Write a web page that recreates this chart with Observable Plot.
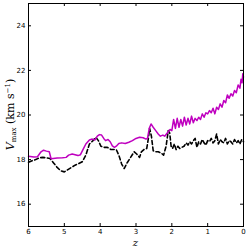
<!DOCTYPE html>
<html><head><meta charset="utf-8">
<script src="https://cdn.jsdelivr.net/npm/d3@7"></script>
<script src="https://cdn.jsdelivr.net/npm/@observablehq/plot@0.6"></script>
<style>body{margin:0;background:#fff}</style>
</head><body><div id="chart"></div>
<script>
const magZ = [6.0,5.85,5.75,5.65,5.58,5.5,5.42,5.37,5.2,5.05,4.95,4.88,4.78,4.7,4.62,4.55,4.48,4.4,4.3,4.22,4.15,4.08,4.02,3.96,3.9,3.85,3.78,3.72,3.66,3.6,3.55,3.48,3.4,3.3,3.2,3.1,3.0,2.9,2.8,2.72,2.68,2.63,2.58,2.52,2.45,2.38,2.32,2.25,2.2,2.15,2.1,2.05,2.0,1.95,1.9,1.85,1.8,1.75,1.7,1.65,1.6,1.55,1.5,1.45,1.4,1.35,1.3,1.25,1.2,1.15,1.1,1.05,1.0,0.95,0.9,0.85,0.8,0.75,0.7,0.65,0.6,0.55,0.5,0.45,0.4,0.35,0.3,0.25,0.2,0.15,0.1,0.07,0.04,0.02,0.0];
const magV = [18.15,18.12,18.13,18.35,18.42,18.38,18.35,18.04,18.07,18.08,18.1,18.2,18.25,18.22,18.18,18.22,18.45,18.7,18.88,18.92,18.88,19.05,19.12,19.1,18.95,18.85,18.9,18.8,18.62,18.55,18.6,18.72,18.75,18.72,18.78,18.85,18.95,19.0,18.98,18.92,18.95,19.4,19.6,19.45,19.3,19.15,19.05,19.1,19.05,19.15,19.25,19.35,19.3,19.8,19.4,19.85,19.45,19.8,19.5,19.9,19.55,19.85,19.6,19.95,19.65,19.85,19.75,19.9,19.8,20.05,19.9,20.1,20.05,20.2,20.1,20.3,20.05,20.35,20.25,20.5,20.35,20.65,20.55,20.9,20.75,20.95,20.85,21.1,21.0,21.35,21.2,21.6,21.45,21.85,21.7];
const blkZ = [6.0,5.9,5.8,5.7,5.6,5.5,5.4,5.3,5.2,5.1,5.0,4.9,4.8,4.7,4.6,4.5,4.4,4.3,4.2,4.12,4.05,3.98,3.9,3.8,3.7,3.62,3.55,3.48,3.4,3.33,3.25,3.15,3.05,2.98,2.9,2.85,2.78,2.7,2.65,2.62,2.57,2.52,2.45,2.38,2.3,2.23,2.16,2.1,2.06,2.02,1.98,1.93,1.88,1.83,1.78,1.72,1.66,1.6,1.55,1.5,1.45,1.4,1.35,1.3,1.25,1.2,1.15,1.1,1.05,1.0,0.95,0.9,0.85,0.8,0.75,0.7,0.65,0.6,0.55,0.5,0.45,0.4,0.35,0.3,0.25,0.2,0.15,0.1,0.05,0.0];
const blkV = [17.88,17.95,18.0,18.08,18.1,18.08,18.05,17.85,17.65,17.5,17.45,17.55,17.65,17.75,17.82,17.9,18.2,18.7,18.85,19.0,18.85,18.6,18.55,18.55,18.45,18.45,18.45,18.2,17.8,17.6,17.85,18.1,18.35,18.25,18.1,18.35,18.45,18.5,19.0,19.4,19.05,18.4,18.35,18.35,18.3,18.2,18.6,19.3,19.2,18.6,18.5,18.7,18.45,18.6,18.5,18.55,18.6,18.75,18.65,18.8,18.7,18.85,18.95,18.55,18.8,18.7,18.9,18.75,18.65,18.85,18.8,18.95,18.75,18.85,19.15,18.7,18.9,18.8,18.75,18.95,18.7,18.85,18.8,18.7,18.9,18.75,18.85,18.7,18.9,18.8];
const xTicks = [6,5,4,3,2,1,0];
const yTicks = [16,18,20,22,24];

const magenta = magZ.map((z,i)=>({z, v: magV[i]}));
const black = blkZ.map((z,i)=>({z, v: blkV[i]}));

const W = 249, H = 251;
const mL = 28, mR = 6, mT = 3, mB = 25;
const fw = W - mL - mR, fh = H - mT - mB;
const tk = 3;

const plot = Plot.plot({
  width: W, height: H,
  marginLeft: mL, marginRight: mR, marginTop: mT, marginBottom: mB,
  style: {fontFamily: "DejaVu Sans", fontSize: "7px", color: "#000", background: "#fff"},
  x: {domain: [6, 0], ticks: xTicks, tickFormat: d3.format("d")},
  y: {domain: [15, 25], ticks: yTicks, tickFormat: d3.format("d")},
  marks: [
    Plot.axisX({ticks: xTicks, tickSize: 0, tickPadding: 3, label: null, tickFormat: d3.format("d")}),
    Plot.axisY({ticks: yTicks, tickSize: 0, tickPadding: 3, label: null, tickFormat: d3.format("d")}),
    Plot.tickX(xTicks, {x: d => d, insetTop: fh - tk, stroke: "#000", strokeWidth: 1}),
    Plot.tickX(xTicks, {x: d => d, insetBottom: fh - tk, stroke: "#000", strokeWidth: 1}),
    Plot.tickY(yTicks, {y: d => d, insetRight: fw - tk, stroke: "#000", strokeWidth: 1}),
    Plot.tickY(yTicks, {y: d => d, insetLeft: fw - tk, stroke: "#000", strokeWidth: 1}),
    Plot.line(black, {x: "z", y: "v", stroke: "#000", strokeWidth: 1.6, strokeDasharray: "4,2.6"}),
    Plot.line(magenta, {x: "z", y: "v", stroke: "#bf00bf", strokeWidth: 1.5}),
    Plot.frame({stroke: "#000", strokeWidth: 1})
  ]
});
const svg = d3.select(plot);
svg.append("text").attr("x", mL + fw/2).attr("y", 246)
  .attr("text-anchor", "middle").attr("font-family", "DejaVu Serif")
  .attr("font-style", "italic").attr("font-size", 10).text("z");
const yl = svg.append("text").attr("transform", `translate(14,${mT + fh/2}) rotate(-90)`)
  .attr("text-anchor", "middle").attr("font-family", "DejaVu Serif").attr("font-size", 11);
yl.append("tspan").attr("font-style", "italic").text("V");
yl.append("tspan").attr("font-size", 7).attr("dy", 2).text("max");
yl.append("tspan").attr("dy", -2).text(" (km s");
yl.append("tspan").attr("font-size", 7).attr("dy", -4).text("−1");
yl.append("tspan").attr("dy", 4).text(")");
document.getElementById("chart").appendChild(plot);
</script></body></html>
